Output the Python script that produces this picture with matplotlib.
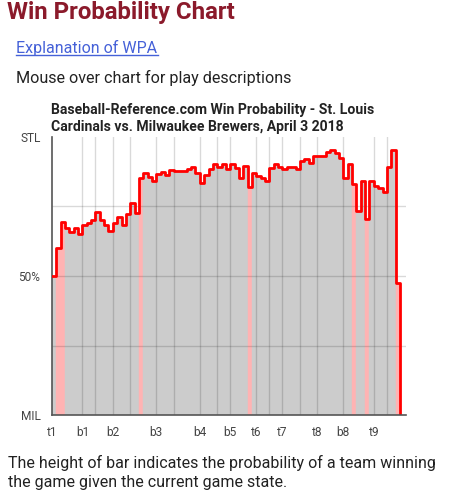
import matplotlib.pyplot as plt
import numpy as np

# Win probability (STL %) after each play, final value = game end
wp = [50, 60.2, 69.3, 67.1, 65.9, 67.1, 65.0,
      68.3, 69.2, 70.1,
      73.1, 70.1, 68.3, 66.2,
      69.2, 71.3, 68.3, 72.2,
      76.1, 72.5, 85.4, 87.2, 85.7, 84.2,
      86.6, 87.3, 86.3, 88.1,
      87.6, 87.6, 87.6, 88.4, 89.3, 86.9,
      83.3, 86.3, 88.4, 90.2,
      89.3, 90.2, 88.4,
      90.2, 88.7, 85.2, 89.6, 82.1, 86.9,
      86.1, 85.1, 84.2,
      88.7, 90.2, 89.1,
      88.4, 89.1, 89.1, 88.4,
      91.4, 92.0, 90.5, 93.3,
      93.3, 93.3, 94.5, 95.3, 94.1, 92.5,
      85.1, 90.2, 83.0, 73.4, 84.3, 70.4, 84.3,
      82.4, 81.5, 80.3,
      89.1, 95.3, 47.4,
      0]
scoring_plays = [1, 2, 20, 45, 69, 72, 79]

# half-inning start (play index) and label
inning_starts = [0, 7, 10, 14, 18, 24, 28, 34, 38, 41, 47, 50, 53, 57, 61, 67, 74, 77]
inning_labels = ["t1", "b1", "", "b2", "", "b3", "", "b4", "", "b5", "t6", "", "t7", "", "t8", "b8", "t9", ""]

plt.rcParams['font.family'] = ['Roboto', 'DejaVu Sans']

W, H = 457, 500
fig = plt.figure(figsize=(W / 100, H / 100), dpi=100)

def px(x, y):
    return x / W, 1 - y / H

fig.text(*px(7, 18.5), "Win Probability Chart", fontsize=17.3, fontweight="bold",
         color="#8b1a2b", va="baseline")
fig.text(*px(16, 53), "Explanation of WPA", fontsize=11.5, color="#4561d8",
         va="baseline")
fig.add_artist(plt.Line2D([16 / W, 158 / W], [1 - 55 / H] * 2, color="#4561d8", lw=1))
fig.text(*px(16, 83), "Mouse over chart for play descriptions", fontsize=11.6,
         color="#222222", va="baseline")
fig.text(*px(51, 114), "Baseball-Reference.com Win Probability - St. Louis",
         fontsize=10.1, fontweight="bold", color="#222222", va="baseline")
fig.text(*px(51, 131), "Cardinals vs. Milwaukee Brewers, April 3 2018",
         fontsize=10.1, fontweight="bold", color="#222222", va="baseline")
fig.text(*px(8, 468), "The height of bar indicates the probability of a team winning",
         fontsize=11.5, color="#222222", va="baseline")
fig.text(*px(8, 487), "the game given the current game state.",
         fontsize=11.5, color="#222222", va="baseline")

ax = fig.add_axes([51.5 / W, 1 - 415 / H, (406 - 51.5) / W, (415 - 137) / H])

n = len(wp) - 1
idx = np.arange(n)
vals = np.array(wp[:-1])
colors = ["#ffb3b3" if i in scoring_plays else "#cccccc" for i in idx]
ax.bar(idx, vals, width=1, align="edge", color=colors, edgecolor=colors,
       linewidth=0.3, zorder=1)

for y in [25, 50, 75]:
    ax.axhline(y, color="black", alpha=0.15, lw=1, zorder=2)
for x in inning_starts[1:]:
    ax.axvline(x, color="black", alpha=0.15, lw=1, zorder=2)

ax.step(np.arange(n + 1), wp, where="post", color="#ff0000", lw=2, zorder=3)

ax.set_xlim(-0.1, 81.4)
ax.set_ylim(0, 100)
ax.set_yticks([0, 50, 100])
ax.set_yticklabels(["MIL", "50%", "STL"])
ax.set_xticks(inning_starts)
ax.set_xticklabels(inning_labels)
ax.tick_params(length=0, labelsize=8.6, colors="#444444")
ax.tick_params(axis="y", pad=8)
ax.tick_params(axis="x", pad=8)
for s in ["top", "right"]:
    ax.spines[s].set_visible(False)
for s in ["left", "bottom"]:
    ax.spines[s].set_color("#555555")
    ax.spines[s].set_linewidth(1.2)
ax.spines["bottom"].set_zorder(4)

fig.savefig("out.png", dpi=100)
